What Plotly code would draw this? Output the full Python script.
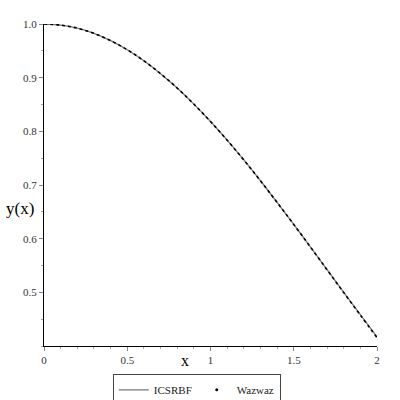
import plotly.graph_objects as go

x_vals = [0.0, 0.1, 0.2, 0.3, 0.4, 0.5, 0.6, 0.7, 0.8, 0.9, 1.0,
          1.1, 1.2, 1.3, 1.4, 1.5, 1.6, 1.7, 1.8, 1.9, 2.0]
icsrbf = [1.0, 0.9980, 0.9922, 0.9825, 0.9690, 0.9520, 0.9314, 0.9075, 0.8806, 0.8507, 0.8183,
          0.7835, 0.7467, 0.7079, 0.6676, 0.6265, 0.5846, 0.5423, 0.5001, 0.4584, 0.4170]
wazwaz = [1.0, 0.9980, 0.9922, 0.9825, 0.9690, 0.9520, 0.9314, 0.9075, 0.8806, 0.8507, 0.8182,
          0.7835, 0.7467, 0.7079, 0.6675, 0.6265, 0.5845, 0.5420, 0.4996, 0.4575, 0.4155]

x_ticks = [0, 0.5, 1, 1.5, 2]
x_tick_labels = ["0", "0.5", "1", "1.5", "2"]
y_ticks = [0.5, 0.6, 0.7, 0.8, 0.9, 1.0]
y_tick_labels = ["0.5", "0.6", "0.7", "0.8", "0.9", "1.0"]

serif = "Liberation Serif"

fig = go.Figure()
fig.add_trace(go.Scatter(x=x_vals, y=icsrbf, mode="lines", name="ICSRBF",
                         line=dict(color="#777777", width=1.3, shape="spline"),
                         cliponaxis=False))
fig.add_trace(go.Scatter(x=x_vals, y=wazwaz, mode="lines", name="Wazwaz",
                         line=dict(color="black", width=1.6, dash="dot", shape="spline"),
                         showlegend=False, cliponaxis=False))
fig.add_trace(go.Scatter(x=[None], y=[None], mode="markers", name="Wazwaz",
                         marker=dict(color="black", size=3)))

fig.update_layout(
    width=400, height=400,
    margin=dict(l=44, r=23, t=24, b=54, autoexpand=False),
    paper_bgcolor="white", plot_bgcolor="white",
    font=dict(family=serif, color="black", size=11),
    showlegend=True,
    legend=dict(orientation="h", x=0.459, xanchor="center", y=-0.088, yanchor="top",
                bordercolor="#444444", borderwidth=1,
                font=dict(size=11, family=serif, color="#222222"),
                itemwidth=30, tracegroupgap=0,
                itemclick=False),
    xaxis=dict(range=[0, 2], tickvals=x_ticks, ticktext=x_tick_labels,
               showgrid=False, zeroline=False, showline=True, linecolor="black", linewidth=1,
               ticks="outside", ticklen=4, tickcolor="#888888",
               minor=dict(dtick=0.1, ticks="outside", ticklen=2, tickcolor="#aaaaaa"),
               tickfont=dict(size=11, color="#333333", family=serif), fixedrange=True),
    yaxis=dict(range=[0.4, 1.0], tickvals=y_ticks, ticktext=y_tick_labels,
               showgrid=False, zeroline=False, showline=True, linecolor="black", linewidth=1,
               ticks="outside", ticklen=4, tickcolor="#888888",
               minor=dict(dtick=0.05, ticks="outside", ticklen=2, tickcolor="#aaaaaa"),
               tickfont=dict(size=11, color="#333333", family=serif), fixedrange=True),
    annotations=[
        dict(text="x", x=(185 - 44) / 333, y=-0.012, xref="paper", yref="paper",
             xanchor="center", yanchor="top", showarrow=False,
             font=dict(size=16, family=serif)),
        dict(text="y(x)", x=(20 - 44) / 333, y=(346 - 208) / 322, xref="paper", yref="paper",
             xanchor="center", yanchor="middle", showarrow=False,
             font=dict(size=17, family=serif)),
    ],
)

fig.write_html("out.html", config={"displayModeBar": False},
               post_script="document.body.style.margin='0';document.body.style.overflow='hidden';")
